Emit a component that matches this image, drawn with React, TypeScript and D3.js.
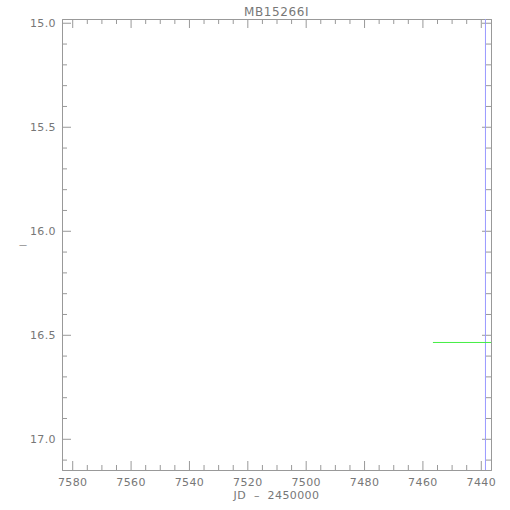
import React, { useEffect, useRef } from "react";
import * as d3 from "d3";

// chart values
const title = "MB15266I";
const xLabel = "JD  –  2450000";
const yLabel = "—";
const xDomain = [7583.5, 7436.5];
const yDomain = [14.982, 17.15];
const xTicks = [7580, 7560, 7540, 7520, 7500, 7480, 7460, 7440];
const yTicks = [15.0, 15.5, 16.0, 16.5, 17.0];
const greenX = [7456.4, 7436.5];
const greenY = [16.537, 16.537];
const blueX = 7438.4;

const App = () => {
  const svgRef = useRef<SVGSVGElement>(null);

  useEffect(() => {
    const svg = d3.select(svgRef.current);
    svg.selectAll("*").remove();

    const margin = { top: 19, right: 19, bottom: 40, left: 62 };
    const width = 510 - margin.left - margin.right;
    const height = 510 - margin.top - margin.bottom;
    const axisColor = "#999";
    const textColor = "#777";
    const font = "DejaVu Sans, sans-serif";

    const x = d3.scaleLinear().domain(xDomain).range([0, width]);
    const y = d3.scaleLinear().domain(yDomain).range([0, height]);

    const g = svg
      .append("g")
      .attr("transform", `translate(${margin.left},${margin.top})`);

    const xMinor = d3.range(7440, 7585, 5).filter((v) => !xTicks.includes(v));
    const yMinor = d3
      .range(150, 172, 1)
      .map((v) => v / 10)
      .filter((v) => v % 0.5 !== 0 && v > yDomain[0] && v < yDomain[1]);

    const styleAxis = (sel, labels) => {
      sel.select(".domain").attr("stroke", axisColor);
      sel.selectAll(".tick line").attr("stroke", axisColor);
      sel
        .selectAll(".tick text")
        .attr("fill", textColor)
        .attr("font-family", font)
        .attr("font-size", 11)
        .attr("letter-spacing", 0.4)
        .style("display", labels ? null : "none");
    };

    // bottom / top major + minor
    const bottom = g.append("g").attr("transform", `translate(0,${height})`);
    bottom
      .call(d3.axisTop(x).tickValues(xTicks).tickSize(9).tickSizeOuter(0).tickFormat(() => ""))
      .call((s) => styleAxis(s, false));
    bottom
      .append("g")
      .call(d3.axisTop(x).tickValues(xMinor).tickSize(5).tickSizeOuter(0).tickFormat(() => ""))
      .call((s) => styleAxis(s, false));
    const xl = g.append("g").attr("transform", `translate(0,${height + 5})`);
    xl.call(d3.axisBottom(x).tickValues(xTicks).tickSize(0).tickFormat(d3.format("d")))
      .call((s) => styleAxis(s, true));
    xl.select(".domain").remove();

    const top = g.append("g");
    top
      .call(d3.axisBottom(x).tickValues(xTicks).tickSize(9).tickSizeOuter(0).tickFormat(() => ""))
      .call((s) => styleAxis(s, false));
    top
      .append("g")
      .call(d3.axisBottom(x).tickValues(xMinor).tickSize(5).tickSizeOuter(0).tickFormat(() => ""))
      .call((s) => styleAxis(s, false));

    // left / right
    const left = g.append("g");
    left
      .call(d3.axisRight(y).tickValues(yTicks).tickSize(9).tickSizeOuter(0).tickFormat(() => ""))
      .call((s) => styleAxis(s, false));
    left
      .append("g")
      .call(d3.axisRight(y).tickValues(yMinor).tickSize(5).tickSizeOuter(0).tickFormat(() => ""))
      .call((s) => styleAxis(s, false));
    const yl = g.append("g").attr("transform", "translate(-3,0)");
    yl.call(d3.axisLeft(y).tickValues(yTicks).tickSize(0).tickFormat(d3.format(".1f")))
      .call((s) => styleAxis(s, true));
    yl.select(".domain").remove();

    const right = g.append("g").attr("transform", `translate(${width},0)`);
    right
      .call(d3.axisLeft(y).tickValues(yTicks).tickSize(9).tickSizeOuter(0).tickFormat(() => ""))
      .call((s) => styleAxis(s, false));
    right
      .append("g")
      .call(d3.axisLeft(y).tickValues(yMinor).tickSize(5).tickSizeOuter(0).tickFormat(() => ""))
      .call((s) => styleAxis(s, false));

    // blue marker line
    g.append("line")
      .attr("x1", x(blueX))
      .attr("x2", x(blueX))
      .attr("y1", 0)
      .attr("y2", height)
      .attr("stroke", "#9999ff")
      .attr("stroke-width", 1);

    // green segment
    const line = d3
      .line<number>()
      .x((d) => x(d))
      .y((_, i) => y(greenY[i]));
    g.append("path")
      .attr("d", line(greenX))
      .attr("stroke", "#44ee44")
      .attr("stroke-width", 1)
      .attr("fill", "none");

    // title and labels
    svg
      .append("text")
      .attr("x", margin.left + width / 2)
      .attr("y", 16)
      .attr("text-anchor", "middle")
      .attr("fill", textColor)
      .attr("font-family", font)
      .attr("font-size", 12)
      .attr("letter-spacing", 0.6)
      .text(title);
    svg
      .append("text")
      .attr("x", margin.left + width / 2)
      .attr("y", 499)
      .attr("text-anchor", "middle")
      .attr("fill", textColor)
      .attr("font-family", font)
      .attr("font-size", 11)
      .attr("letter-spacing", 0.4)
      .attr("xml:space", "preserve")
      .style("white-space", "pre")
      .text(xLabel);
    svg
      .append("text")
      .attr("x", 23)
      .attr("y", 248)
      .attr("text-anchor", "middle")
      .attr("fill", textColor)
      .attr("font-family", font)
      .attr("font-size", 8)
      .text(yLabel);
  }, []);

  return (
    <svg
      ref={svgRef}
      width={510}
      height={510}
      style={{ position: "absolute", left: 0, top: 0, background: "#fff" }}
    />
  );
};

export default App;
